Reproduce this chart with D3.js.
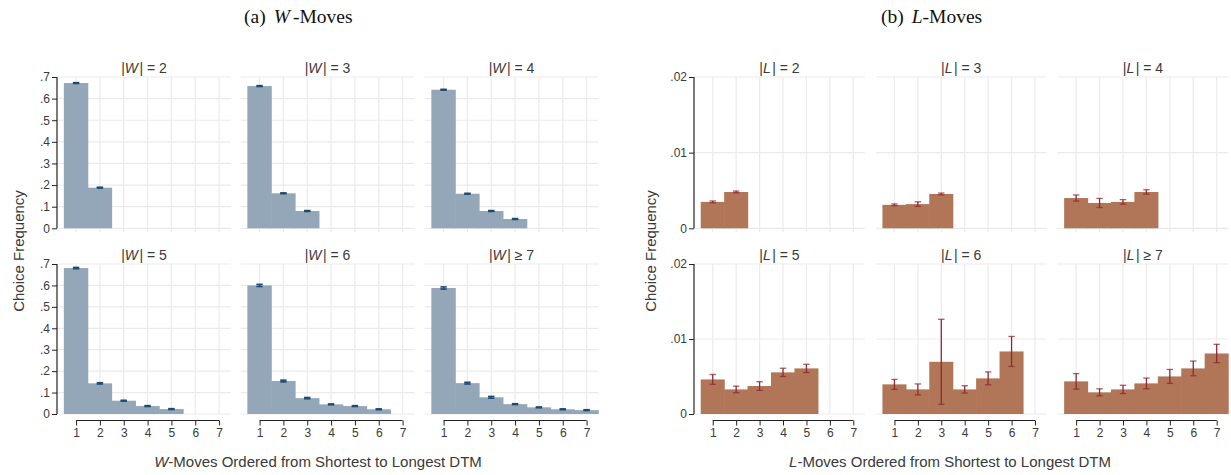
<!DOCTYPE html>
<html><head><meta charset="utf-8">
<script src="https://cdn.jsdelivr.net/npm/d3@7/dist/d3.min.js"></script>
<style>
body{margin:0;background:#fff;}
svg{display:block;}
</style></head>
<body>
<script>
// ---------- data ----------
const positions = [1,2,3,4,5,6,7];
const wSizeLabels = ["= 2","= 3","= 4","= 5","= 6","\u2265 7"];
const lSizeLabels = ["= 2","= 3","= 4","= 5","= 6","\u2265 7"];
const wValues = [
  [0.672,0.188],
  [0.658,0.162,0.080],
  [0.641,0.160,0.080,0.043],
  [0.681,0.143,0.062,0.037,0.023],
  [0.600,0.154,0.074,0.045,0.037,0.022],
  [0.588,0.144,0.078,0.046,0.031,0.022,0.018]
];
const wErrors = [
  [0.002,0.002],
  [0.002,0.002,0.002],
  [0.002,0.002,0.002,0.002],
  [0.003,0.003,0.002,0.002,0.002],
  [0.005,0.004,0.003,0.002,0.002,0.002],
  [0.005,0.004,0.004,0.002,0.002,0.002,0.002]
];
const lValues = [
  [0.00349,0.00480],
  [0.00310,0.00320,0.00454],
  [0.00400,0.00335,0.00349,0.00480],
  [0.00461,0.00328,0.00373,0.00555,0.00608],
  [0.00395,0.00328,0.00696,0.00328,0.00475,0.00834],
  [0.00435,0.00289,0.00328,0.00408,0.00501,0.00608,0.00807]
];
const lErrors = [
  [0.00012,0.00012],
  [0.00012,0.00030,0.00012],
  [0.00040,0.00060,0.00030,0.00030],
  [0.00066,0.00044,0.00058,0.00055,0.00055],
  [0.00066,0.00073,0.00567,0.00049,0.00086,0.00200],
  [0.00104,0.00047,0.00055,0.00071,0.00093,0.00098,0.00122]
];
const wTicks = [0,0.1,0.2,0.3,0.4,0.5,0.6,0.7];
const wTickLabels = ["0",".1",".2",".3",".4",".5",".6",".7"];
const lTicks = [0,0.01,0.02];
const lTickLabels = ["0",".01",".02"];

// ---------- drawing ----------
const W = 1231, H = 475;
const svg = d3.select("body").append("svg").attr("width",W).attr("height",H);
const SANS = "'Liberation Sans', Arial, sans-serif";
const SERIF = "'Liberation Serif', 'DejaVu Serif', serif";
const textCol = "#3a3a3a";
const gridCol = "#ebebeb";

const rowsY = [[77,228.3],[264,414]];

function panel(cfg){
  const {starts, width, values, errors, yMax, ticks, tickLabels, sym, sizeLabels, barCol, errCol, errW, capOpacity} = cfg;
  values.forEach((vals,i)=>{
    const col = i%3, row = Math.floor(i/3);
    const x0 = starts[col];
    const x = d3.scaleLinear().domain([0.2,7.5]).range([x0,x0+width]);
    const y = d3.scaleLinear().domain([0,yMax]).range([rowsY[row][1],rowsY[row][0]]);
    const g = svg.append("g");
    // gridlines
    g.selectAll("line.hg").data(ticks).join("line")
      .attr("x1",x0).attr("x2",x0+width)
      .attr("y1",d=>y(d)).attr("y2",d=>y(d))
      .attr("stroke",gridCol).attr("stroke-width",1.2);
    g.selectAll("line.vg").data(positions).join("line")
      .attr("x1",d=>x(d)).attr("x2",d=>x(d))
      .attr("y1",y(yMax)).attr("y2",y(0)+(row===0?4:0))
      .attr("stroke",gridCol).attr("stroke-width",1.2);
    // bars (slight overlap to avoid seams)
    g.selectAll("rect").data(vals).join("rect")
      .attr("x",(d,j)=>x(j+1-0.5)-0.3)
      .attr("width",(d,j)=>x(j+1.5)-x(j+0.5)+0.6)
      .attr("y",d=>y(d))
      .attr("height",d=>y(0)-y(d))
      .attr("fill",barCol);
    // error bars
    const eb = g.selectAll("g.eb").data(vals).join("g");
    eb.append("line")
      .attr("x1",(d,j)=>x(j+1)).attr("x2",(d,j)=>x(j+1))
      .attr("y1",(d,j)=>y(d+errors[i][j])).attr("y2",(d,j)=>y(d-errors[i][j]))
      .attr("stroke",errCol).attr("stroke-width",errW);
    [1,-1].forEach(s=>{
      eb.append("line")
        .attr("x1",(d,j)=>x(j+1)-3.2).attr("x2",(d,j)=>x(j+1)+3.2)
        .attr("y1",(d,j)=>y(d+s*errors[i][j])).attr("y2",(d,j)=>y(d+s*errors[i][j]))
        .attr("stroke",errCol).attr("stroke-width",errW).attr("stroke-opacity",capOpacity);
    });
    // facet title
    const t = g.append("text")
      .attr("x",x0+width/2).attr("y",y(yMax)-4)
      .attr("text-anchor","middle")
      .attr("font-family",SANS).attr("font-size",14).attr("fill",textCol);
    t.append("tspan").text("|");
    t.append("tspan").attr("font-style","italic").text(sym);
    t.append("tspan").attr("dx",1.5).text("| " + sizeLabels[i]);
    // y axis on first column
    if(col===0){
      const ax = d3.axisLeft(y).tickValues(ticks).tickFormat((d,k)=>tickLabels[k]).tickSize(5).tickPadding(2);
      const a = g.append("g").attr("transform",`translate(${x0},0)`).call(ax);
      a.select(".domain").attr("d",`M0,${y(0)}V${y(yMax)}`).attr("stroke","#222").attr("stroke-width",1.2);
      a.selectAll(".tick line").attr("stroke","#222").attr("stroke-width",1);
      a.selectAll(".tick text").attr("font-family",SANS).attr("font-size",12).attr("fill",textCol);
    }
    // x axis on bottom row
    if(row===1){
      const ax = d3.axisBottom(x).tickValues(positions).tickFormat(d3.format("d")).tickSize(5).tickPadding(3);
      const a = g.append("g").attr("transform",`translate(0,${y(0)+6.5})`).call(ax);
      a.select(".domain").attr("d",`M${x(1)},0H${x(7)}`).attr("stroke","#222").attr("stroke-width",1.2);
      a.selectAll(".tick line").attr("stroke","#222").attr("stroke-width",1);
      a.selectAll(".tick text").attr("font-family",SANS).attr("font-size",12).attr("fill",textCol);
    }
  });
}

panel({starts:[57,240.5,424.5], width:174, values:wValues, errors:wErrors, yMax:0.7,
  ticks:wTicks, tickLabels:wTickLabels, sym:"W", sizeLabels:wSizeLabels,
  barCol:"#94a7b8", errCol:"#1f4a72", errW:1.6, capOpacity:1});
panel({starts:[694,875.7,1057.4], width:171, values:lValues, errors:lErrors, yMax:0.02,
  ticks:lTicks, tickLabels:lTickLabels, sym:"L", sizeLabels:lSizeLabels,
  barCol:"#b07657", errCol:"#8e2a33", errW:1.3, capOpacity:0.75});

// y labels
[[18,"Choice Frequency"],[650,"Choice Frequency"]].forEach(([xx,txt])=>{
  svg.append("text").attr("transform",`translate(${xx},251) rotate(-90)`)
    .attr("text-anchor","middle").attr("dominant-baseline","central")
    .attr("font-family",SANS).attr("font-size",15).attr("fill",textCol).text(txt);
});
// x labels
[[318,"W"],[950,"L"]].forEach(([xx,s])=>{
  const t = svg.append("text").attr("x",xx).attr("y",467).attr("text-anchor","middle")
    .attr("font-family",SANS).attr("font-size",15).attr("fill",textCol);
  t.append("tspan").attr("font-style","italic").text(s);
  t.append("tspan").text("-Moves Ordered from Shortest to Longest DTM");
});
// panel titles
[[244,"(a)","W","-Moves"],[881,"(b)","L","-Moves"]].forEach(([xx,p,s,rest])=>{
  const t = svg.append("text").attr("x",xx).attr("y",23)
    .attr("font-family",SERIF).attr("font-size",19.5).attr("fill","#111");
  t.append("tspan").text(p);
  t.append("tspan").attr("dx",8).attr("font-style","italic").text(s);
  t.append("tspan").attr("dx",s==="W"?3:0).text(rest);
});
</script>
</body></html>
